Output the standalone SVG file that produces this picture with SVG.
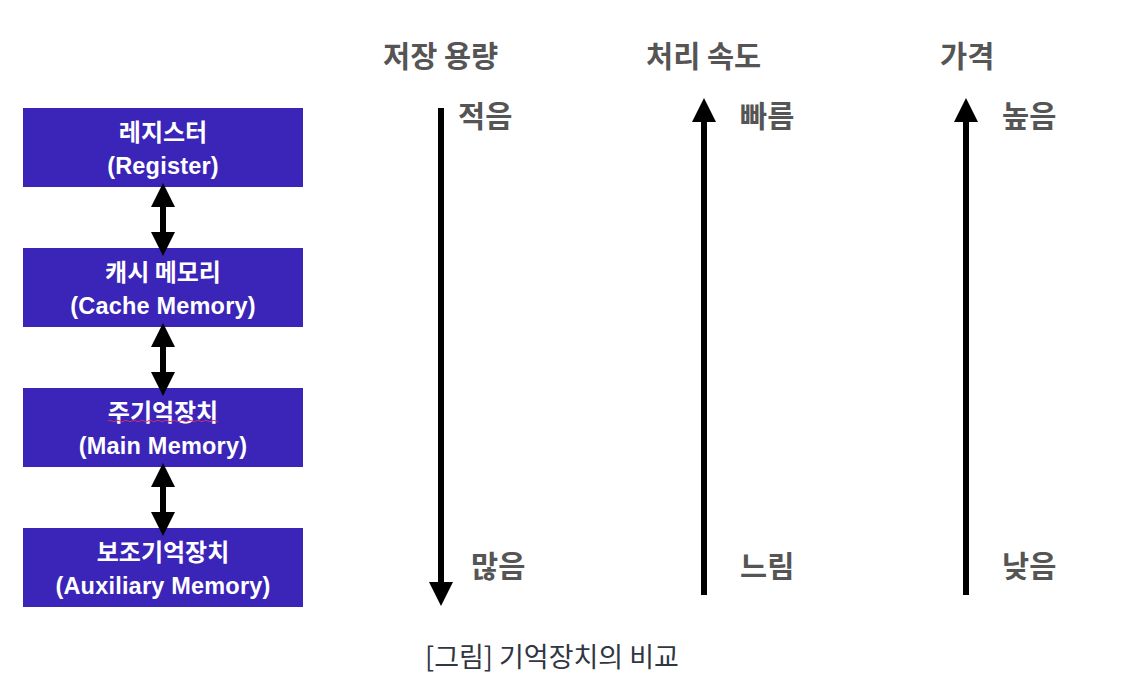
<svg xmlns="http://www.w3.org/2000/svg" width="1134" height="680" viewBox="0 0 1134 680">
  <style>
    .box { fill: #3b24b8; }
    .kr { font-family: "Noto Sans CJK KR", "Liberation Sans", sans-serif; font-weight: 700; font-size: 24px; fill: #ffffff; text-anchor: middle; }
    .en { font-family: "Liberation Sans", "Noto Sans CJK KR", sans-serif; font-weight: 700; font-size: 23.5px; letter-spacing: 0.2px; fill: #ffffff; text-anchor: middle; }
    .head { font-family: "Noto Sans CJK KR", sans-serif; font-weight: 700; font-size: 29.5px; fill: #555555; }
    .lbl { font-family: "Noto Sans CJK KR", sans-serif; font-weight: 700; font-size: 29.5px; fill: #555555; }
    .cap { font-family: "Noto Sans CJK KR", sans-serif; font-weight: 400; font-size: 27px; fill: #303642; }
    .conn { stroke: #000000; stroke-width: 6; fill: none; }
  </style>
  <defs>
    <marker id="head" markerUnits="userSpaceOnUse" markerWidth="24" markerHeight="24" refX="0" refY="12" orient="auto-start-reverse" viewBox="0 0 24 24">
      <path d="M0,0 L24,12 L0,24 Z" fill="#000000"/>
    </marker>
  </defs>
  <rect width="1134" height="680" fill="#ffffff"/>

  <g id="node-register">
    <rect class="box" x="23" y="108" width="280" height="79"/>
    <text class="kr" x="163" y="141">레지스터</text>
    <text class="en" x="163" y="174">(Register)</text>
  </g>
  <g id="node-cache">
    <rect class="box" x="23" y="248" width="280" height="79"/>
    <text class="kr" x="163" y="281">캐시 메모리</text>
    <text class="en" x="163" y="314">(Cache Memory)</text>
  </g>
  <g id="node-main">
    <rect class="box" x="23" y="388" width="280" height="79"/>
    <text class="kr" x="163" y="421">주기억장치</text>
    <path d="M108,421 q2,-1.5 4,0 t4,0 t4,0 t4,0 t4,0 t4,0 t4,0 t4,0 t4,0 t4,0 t4,0 t4,0 t4,0 t4,0 t4,0 t4,0 t4,0 t4,0 t4,0 t4,0 t4,0 t4,0 t4,0 t4,0 t4,0 t4,0 t4,0 t2,0" fill="none" stroke="#c8336a" stroke-width="1"/>
    <text class="en" x="163" y="454">(Main Memory)</text>
  </g>
  <g id="node-aux">
    <rect class="box" x="23" y="528" width="280" height="79"/>
    <text class="kr" x="163" y="561">보조기억장치</text>
    <text class="en" x="163" y="594">(Auxiliary Memory)</text>
  </g>

  <g id="connectors">
    <line class="conn" x1="163" y1="207" x2="163" y2="232" marker-start="url(#head)" marker-end="url(#head)"/>
    <line class="conn" x1="163" y1="347" x2="163" y2="372" marker-start="url(#head)" marker-end="url(#head)"/>
    <line class="conn" x1="163" y1="487" x2="163" y2="512" marker-start="url(#head)" marker-end="url(#head)"/>
    <line class="conn" x1="441" y1="108" x2="441" y2="582" marker-end="url(#head)"/>
    <line class="conn" x1="704" y1="595" x2="704" y2="122" marker-end="url(#head)"/>
    <line class="conn" x1="966" y1="595" x2="966" y2="122" marker-end="url(#head)"/>
  </g>

  <g id="headers">
    <text class="head" x="383" y="67">저장 용량</text>
    <text class="head" x="646" y="67">처리 속도</text>
    <text class="head" x="940" y="67">가격</text>
  </g>
  <g id="labels">
    <text class="lbl" x="458" y="127">적음</text>
    <text class="lbl" x="740" y="127">빠름</text>
    <text class="lbl" x="1002" y="127">높음</text>
    <text class="lbl" x="471" y="577">많음</text>
    <text class="lbl" x="740" y="577">느림</text>
    <text class="lbl" x="1002" y="577">낮음</text>
  </g>
  <text class="cap" x="425" y="667">[그림] 기억장치의 비교</text>
</svg>
